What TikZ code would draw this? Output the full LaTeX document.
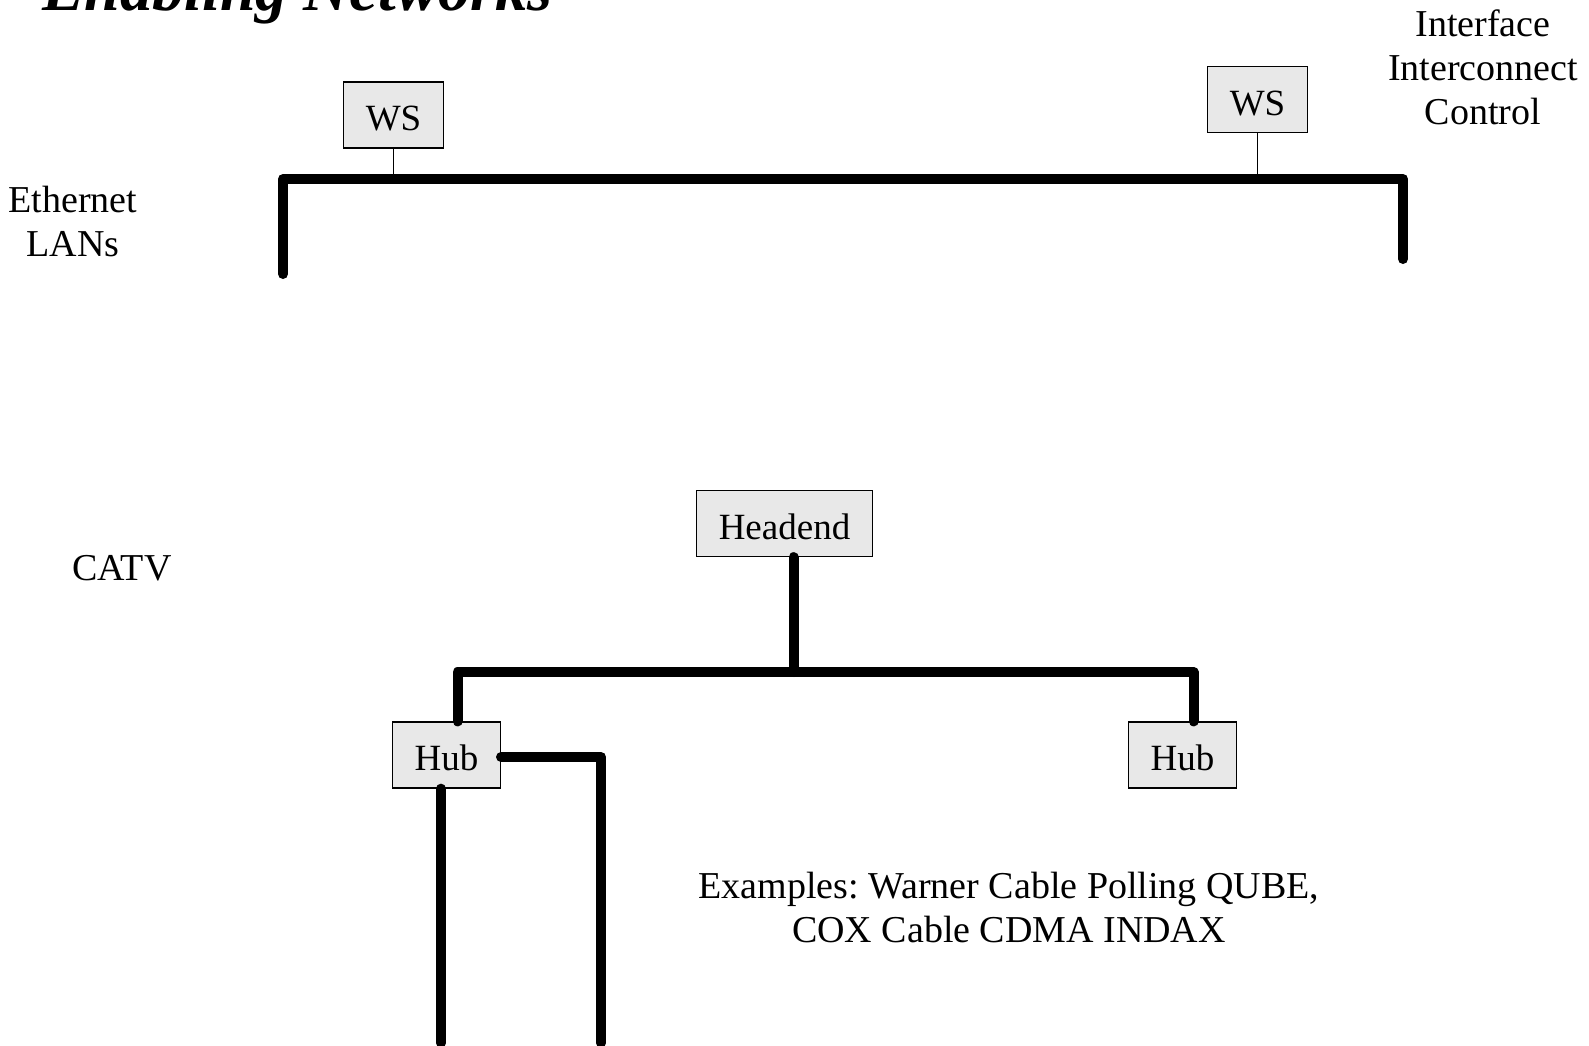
\documentclass[tikz,border=0pt]{standalone}
\usepackage{fontspec}
\setmainfont{Liberation Serif}
\usepackage{xcolor}
\usepackage{tikz}
\frenchspacing
\definecolor{boxgray}{HTML}{E8E8E8}
\tikzset{
  unit/.style={draw=black,fill=boxgray,line width=1.3pt,inner xsep=22pt,inner ysep=0pt,
    minimum height=66pt,text height=31pt,text depth=0pt,font=\fontsize{37}{44}\selectfont},
  lbl/.style={align=center,inner sep=0pt,font=\fontsize{38}{44}\selectfont},
  bus/.style={line width=10pt,line cap=round,line join=round},
  tap/.style={line width=1.3pt}}
\begin{document}
\begin{tikzpicture}[x=1pt,y=-1pt]
  \useasboundingbox (0,0) rectangle (1589,1045);
  \node[anchor=base west,inner sep=0pt,font=\fontsize{64}{70}\selectfont\bfseries\itshape] (title) at (42,10) {Enabling Networks};
  \node[lbl] (ether) at (73,221) {Ethernet\\LANs};
  \node[lbl] (ictl) at (1483,67) {Interface\\Interconnect\\Control};
  \node[lbl] (catv) at (122,568) {CATV};
  \node[lbl] (ex) at (1009,907) {Examples: Warner Cable Polling QUBE,\\COX Cable CDMA INDAX};
  \coordinate (lanL) at (283,274);
  \coordinate (lanR) at (1403,259);
  \coordinate (lanbus) at (0,179);
  \coordinate (catvbus) at (0,672);
  \coordinate (dropA) at (441,1043);
  \coordinate (dropB) at (601,1043);
  \draw[bus] (lanL) -- (lanL |- lanbus) -- (lanR |- lanbus) -- (lanR);
  \node[unit] (ws1) at (393.5,115) {WS};
  \node[unit] (ws2) at (1257.5,99.5) {WS};
  \draw[tap] (ws1) -- (ws1 |- lanbus);
  \draw[tap] (ws2) -- (ws2 |- lanbus);
  \node[unit] (head) at (784.5,523.5) {Headend};
  \node[unit] (hub1) at (446.5,755) {Hub};
  \node[unit] (hub2) at (1182.5,755) {Hub};
  \draw[bus] ([xshift=9pt]head.south) -- ([xshift=9pt]head.south |- catvbus);
  \draw[bus] ([xshift=11pt]hub1.north) -- ([xshift=11pt]hub1.north |- catvbus)
    -- ([xshift=11pt]hub2.north |- catvbus) -- ([xshift=11pt]hub2.north);
  \draw[bus] (hub1.south -| dropA) -- (dropA);
  \draw[bus] ([yshift=-2pt]hub1.east) -| (dropB);
\end{tikzpicture}
\end{document}
